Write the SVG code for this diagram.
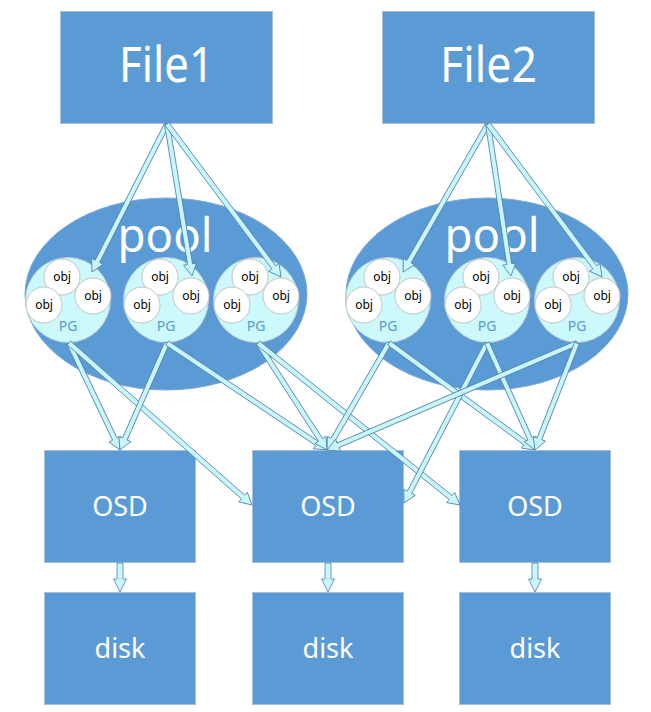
<svg xmlns="http://www.w3.org/2000/svg" width="651" height="712" viewBox="0 0 651 712">
<style>
.box{fill:#5b9bd5;stroke:#a7bfd8;stroke-width:1}
.pool{fill:#5b9bd5;stroke:#7fa9d6;stroke-width:1}
.pg{fill:#ccf9fc;stroke:#b9c9d3;stroke-width:1}
.obj{fill:#ffffff;stroke:#c4c4c4;stroke-width:1}
.big{font-family:"Noto Sans","Open Sans",sans-serif;fill:#ffffff;text-anchor:middle}
.lbl{font-family:"Noto Sans","Open Sans",sans-serif;fill:#ffffff;text-anchor:middle;font-size:27px}
.objt{font-family:"Noto Sans","Open Sans",sans-serif;fill:#000000;text-anchor:middle;font-size:12px}
.pgt{font-family:"Noto Sans","Open Sans",sans-serif;fill:#5b9bd5;text-anchor:middle;font-size:14px}
.arr{fill:#c8f6fa;stroke:#4e7fab;stroke-width:0.8;stroke-linejoin:miter}
</style>
<rect width="651" height="712" fill="#ffffff"/>
<g id="file1"><rect class="box" x="60.5" y="11.5" width="212" height="112"/><text class="big" x="166.5" y="82" font-size="50" textLength="95" lengthAdjust="spacingAndGlyphs">File1</text></g>
<g id="file2"><rect class="box" x="382.5" y="11.5" width="212" height="112"/><text class="big" x="488.5" y="82" font-size="50" textLength="97" lengthAdjust="spacingAndGlyphs">File2</text></g>
<g id="pool1"><ellipse class="pool" cx="166" cy="294" rx="141" ry="96"/><text class="big" x="165" y="252" font-size="48" textLength="95" lengthAdjust="spacingAndGlyphs">pool</text></g>
<g id="pool2"><ellipse class="pool" cx="487" cy="294" rx="141" ry="96"/><text class="big" x="492" y="252" font-size="48" textLength="95" lengthAdjust="spacingAndGlyphs">pool</text></g>
<g id="pg1"><circle class="pg" cx="68" cy="300" r="42.5"/><circle class="obj" cx="62" cy="277" r="18"/><circle class="obj" cx="93" cy="296" r="18"/><circle class="obj" cx="44" cy="305" r="18"/><text class="objt" x="62" y="281">obj</text><text class="objt" x="93" y="300">obj</text><text class="objt" x="44" y="309">obj</text><text class="pgt" x="68" y="331">PG</text></g>
<g id="pg2"><circle class="pg" cx="166" cy="300" r="42.5"/><circle class="obj" cx="160" cy="277" r="18"/><circle class="obj" cx="191" cy="296" r="18"/><circle class="obj" cx="142" cy="305" r="18"/><text class="objt" x="160" y="281">obj</text><text class="objt" x="191" y="300">obj</text><text class="objt" x="142" y="309">obj</text><text class="pgt" x="166" y="331">PG</text></g>
<g id="pg3"><circle class="pg" cx="256" cy="300" r="42.5"/><circle class="obj" cx="250" cy="277" r="18"/><circle class="obj" cx="281" cy="296" r="18"/><circle class="obj" cx="232" cy="305" r="18"/><text class="objt" x="250" y="281">obj</text><text class="objt" x="281" y="300">obj</text><text class="objt" x="232" y="309">obj</text><text class="pgt" x="256" y="331">PG</text></g>
<g id="pg4"><circle class="pg" cx="388" cy="300" r="42.5"/><circle class="obj" cx="382" cy="277" r="18"/><circle class="obj" cx="413" cy="296" r="18"/><circle class="obj" cx="364" cy="305" r="18"/><text class="objt" x="382" y="281">obj</text><text class="objt" x="413" y="300">obj</text><text class="objt" x="364" y="309">obj</text><text class="pgt" x="388" y="331">PG</text></g>
<g id="pg5"><circle class="pg" cx="487" cy="300" r="42.5"/><circle class="obj" cx="481" cy="277" r="18"/><circle class="obj" cx="512" cy="296" r="18"/><circle class="obj" cx="463" cy="305" r="18"/><text class="objt" x="481" y="281">obj</text><text class="objt" x="512" y="300">obj</text><text class="objt" x="463" y="309">obj</text><text class="pgt" x="487" y="331">PG</text></g>
<g id="pg6"><circle class="pg" cx="577" cy="300" r="42.5"/><circle class="obj" cx="571" cy="277" r="18"/><circle class="obj" cx="602" cy="296" r="18"/><circle class="obj" cx="553" cy="305" r="18"/><text class="objt" x="571" y="281">obj</text><text class="objt" x="602" y="300">obj</text><text class="objt" x="553" y="309">obj</text><text class="pgt" x="577" y="331">PG</text></g>
<g id="osd1"><rect class="box" x="44.5" y="450.5" width="151" height="112"/><text class="lbl" x="120" y="516">OSD</text></g>
<g id="osd2"><rect class="box" x="252.5" y="450.5" width="151" height="112"/><text class="lbl" x="328" y="516">OSD</text></g>
<g id="osd3"><rect class="box" x="459.5" y="450.5" width="151" height="112"/><text class="lbl" x="535" y="516">OSD</text></g>
<g id="disk1"><rect class="box" x="44.5" y="592.5" width="151" height="112"/><text class="lbl" x="120" y="658">disk</text></g>
<g id="disk2"><rect class="box" x="252.5" y="592.5" width="151" height="112"/><text class="lbl" x="328" y="658">disk</text></g>
<g id="disk3"><rect class="box" x="459.5" y="592.5" width="151" height="112"/><text class="lbl" x="535" y="658">disk</text></g>
<g id="connectors">
<polygon class="arr" transform="translate(92,272) rotate(116.87)" points="-165.9,-2.5 -12,-2.5 -12,-6.5 0,0 -12,6.5 -12,2.5 -165.9,2.5"/>
<polygon class="arr" transform="translate(192,276) rotate(80.66)" points="-154,-2.5 -12,-2.5 -12,-6.5 0,0 -12,6.5 -12,2.5 -154,2.5"/>
<polygon class="arr" transform="translate(281,277) rotate(53.31)" points="-190.8,-2.5 -12,-2.5 -12,-6.5 0,0 -12,6.5 -12,2.5 -190.8,2.5"/>
<polygon class="arr" transform="translate(403,272) rotate(119.87)" points="-170.7,-2.5 -12,-2.5 -12,-6.5 0,0 -12,6.5 -12,2.5 -170.7,2.5"/>
<polygon class="arr" transform="translate(511,276) rotate(81.40)" points="-153.7,-2.5 -12,-2.5 -12,-6.5 0,0 -12,6.5 -12,2.5 -153.7,2.5"/>
<polygon class="arr" transform="translate(602,277) rotate(53.31)" points="-190.8,-2.5 -12,-2.5 -12,-6.5 0,0 -12,6.5 -12,2.5 -190.8,2.5"/>
<polygon class="arr" transform="translate(120,450) rotate(64.51)" points="-118.5,-2.5 -12,-2.5 -12,-6.5 0,0 -12,6.5 -12,2.5 -118.5,2.5"/>
<polygon class="arr" transform="translate(252,505) rotate(41.52)" points="-244.4,-2.5 -12,-2.5 -12,-6.5 0,0 -12,6.5 -12,2.5 -244.4,2.5"/>
<polygon class="arr" transform="translate(120,450) rotate(113.71)" points="-116.9,-2.5 -12,-2.5 -12,-6.5 0,0 -12,6.5 -12,2.5 -116.9,2.5"/>
<polygon class="arr" transform="translate(327,450) rotate(33.77)" points="-192.5,-2.5 -12,-2.5 -12,-6.5 0,0 -12,6.5 -12,2.5 -192.5,2.5"/>
<polygon class="arr" transform="translate(327,450) rotate(57.18)" points="-127.3,-2.5 -12,-2.5 -12,-6.5 0,0 -12,6.5 -12,2.5 -127.3,2.5"/>
<polygon class="arr" transform="translate(460,505) rotate(38.72)" points="-258.9,-2.5 -12,-2.5 -12,-6.5 0,0 -12,6.5 -12,2.5 -258.9,2.5"/>
<polygon class="arr" transform="translate(327,450) rotate(120.09)" points="-123.7,-2.5 -12,-2.5 -12,-6.5 0,0 -12,6.5 -12,2.5 -123.7,2.5"/>
<polygon class="arr" transform="translate(535,450) rotate(36.23)" points="-181,-2.5 -12,-2.5 -12,-6.5 0,0 -12,6.5 -12,2.5 -181,2.5"/>
<polygon class="arr" transform="translate(404,503) rotate(117.42)" points="-180.2,-2.5 -12,-2.5 -12,-6.5 0,0 -12,6.5 -12,2.5 -180.2,2.5"/>
<polygon class="arr" transform="translate(535,450) rotate(65.83)" points="-117.3,-2.5 -12,-2.5 -12,-6.5 0,0 -12,6.5 -12,2.5 -117.3,2.5"/>
<polygon class="arr" transform="translate(327,450) rotate(156.83)" points="-271.9,-2.5 -12,-2.5 -12,-6.5 0,0 -12,6.5 -12,2.5 -271.9,2.5"/>
<polygon class="arr" transform="translate(535,450) rotate(111.43)" points="-114.9,-2.5 -12,-2.5 -12,-6.5 0,0 -12,6.5 -12,2.5 -114.9,2.5"/>
<polygon class="arr" transform="translate(120,592) rotate(90)" points="-29,-3 -13,-3 -13,-6.5 0,0 -13,6.5 -13,3 -29,3"/>
<polygon class="arr" transform="translate(328,592) rotate(90)" points="-29,-3 -13,-3 -13,-6.5 0,0 -13,6.5 -13,3 -29,3"/>
<polygon class="arr" transform="translate(535,592) rotate(90)" points="-29,-3 -13,-3 -13,-6.5 0,0 -13,6.5 -13,3 -29,3"/>
</g>
</svg>
